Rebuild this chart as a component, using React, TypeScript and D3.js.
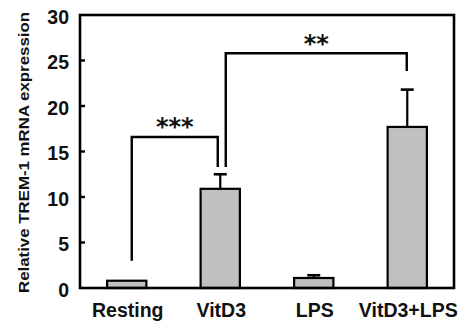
import React from "react";
import * as d3 from "d3";

const categories = ["Resting", "VitD3", "LPS", "VitD3+LPS"];
const means = [0.8, 10.9, 1.1, 17.7];
const errors = [0, 1.6, 0.3, 4.1];
const yTicks = [0, 5, 10, 15, 20, 25, 30];
const yLabel = "Relative TREM-1 mRNA expression";

// significance brackets: from category, to category, bracket height, leg bottoms, label
const brackets = [
  { from: "Resting", to: "VitD3", fromOff: 5, toOff: -2.5, top: 16.6, fromBottom: 3.0, toBottom: 13.3, label: "***" },
  { from: "VitD3", to: "VitD3+LPS", fromOff: 5.5, toOff: -0.5, top: 25.8, fromBottom: 13.3, toBottom: 23.85, label: "**" },
];

const W = 465;
const H = 323;
const m = { left: 80, right: 454, top: 15, bottom: 288 };

export default function App() {
  const x = d3
    .scaleBand<string>()
    .domain(categories)
    .range([m.left, m.right])
    .paddingInner(0.58)
    .paddingOuter(0.29);
  const y = d3.scaleLinear().domain([0, 30]).range([m.bottom, m.top]);
  const bw = x.bandwidth();
  const cx = (c: string) => (x(c) as number) + bw / 2;
  const tickFont = 19.5;

  return (
    <svg
      width={W}
      height={H}
      style={{ position: "absolute", left: 0, top: 0 }}
      fontFamily="'Liberation Sans', Arial, sans-serif"
    >
      <rect width={W} height={H} fill="#fff" />
      {/* bars */}
      {categories.map((c, i) => (
        <g key={c}>
          {errors[i] > 0 && (
            <g stroke="#000" strokeWidth={2.2}>
              <line x1={cx(c)} x2={cx(c)} y1={y(means[i])} y2={y(means[i] + errors[i])} />
              <line x1={cx(c) - 6.5} x2={cx(c) + 6.5} y1={y(means[i] + errors[i])} y2={y(means[i] + errors[i])} strokeWidth={2.6} />
            </g>
          )}
          <rect
            x={x(c)}
            y={y(means[i])}
            width={bw}
            height={y(0) - y(means[i])}
            fill="#c0c0c0"
            stroke="#000"
            strokeWidth={2.2}
          />
        </g>
      ))}
      {/* frame */}
      <rect
        x={m.left}
        y={m.top}
        width={m.right - m.left}
        height={m.bottom - m.top}
        fill="none"
        stroke="#000"
        strokeWidth={2.6}
      />
      {/* y ticks */}
      {yTicks.map((t) => (
        <g key={t}>
          {t > 0 && t < 30 && (
            <line x1={m.left} x2={m.left + 5} y1={y(t)} y2={y(t)} stroke="#000" strokeWidth={2.4} />
          )}
          <text
            x={69}
            y={y(t) + 8.5}
            textAnchor="end"
            fontSize={tickFont}
            fontWeight="bold"
            fill="#111"
          >
            {t}
          </text>
        </g>
      ))}
      {/* x labels */}
      {categories.map((c) => (
        <text
          key={c}
          x={cx(c) + 1}
          y={316.5}
          textAnchor="middle"
          fontSize={19.5}
          fontWeight="bold"
          fill="#111"
        >
          {c}
        </text>
      ))}
      {/* y label */}
      <text
        transform={`translate(29,${(12 + 293) / 2}) rotate(-90)`}
        textAnchor="middle"
        fontSize={15.5}
        fontWeight="bold"
        fill="#111"
        textLength={281}
        lengthAdjust="spacingAndGlyphs"
      >
        {yLabel}
      </text>
      {/* brackets */}
      {brackets.map((b) => {
        const x1 = cx(b.from) + b.fromOff;
        const x2 = cx(b.to) + b.toOff;
        const path = d3.path();
        path.moveTo(x1, y(b.fromBottom));
        path.lineTo(x1, y(b.top));
        path.lineTo(x2, y(b.top));
        path.lineTo(x2, y(b.toBottom));
        return (
          <g key={b.label}>
            <path d={path.toString()} fill="none" stroke="#000" strokeWidth={2.4} />
            <text
              x={(x1 + x2) / 2}
              y={y(b.top) - 1.5}
              textAnchor="middle"
              fontSize={24}
              fontWeight="bold"
              fontFamily="'DejaVu Sans', sans-serif"
              fill="#111"
            >
              {b.label}
            </text>
          </g>
        );
      })}
    </svg>
  );
}
